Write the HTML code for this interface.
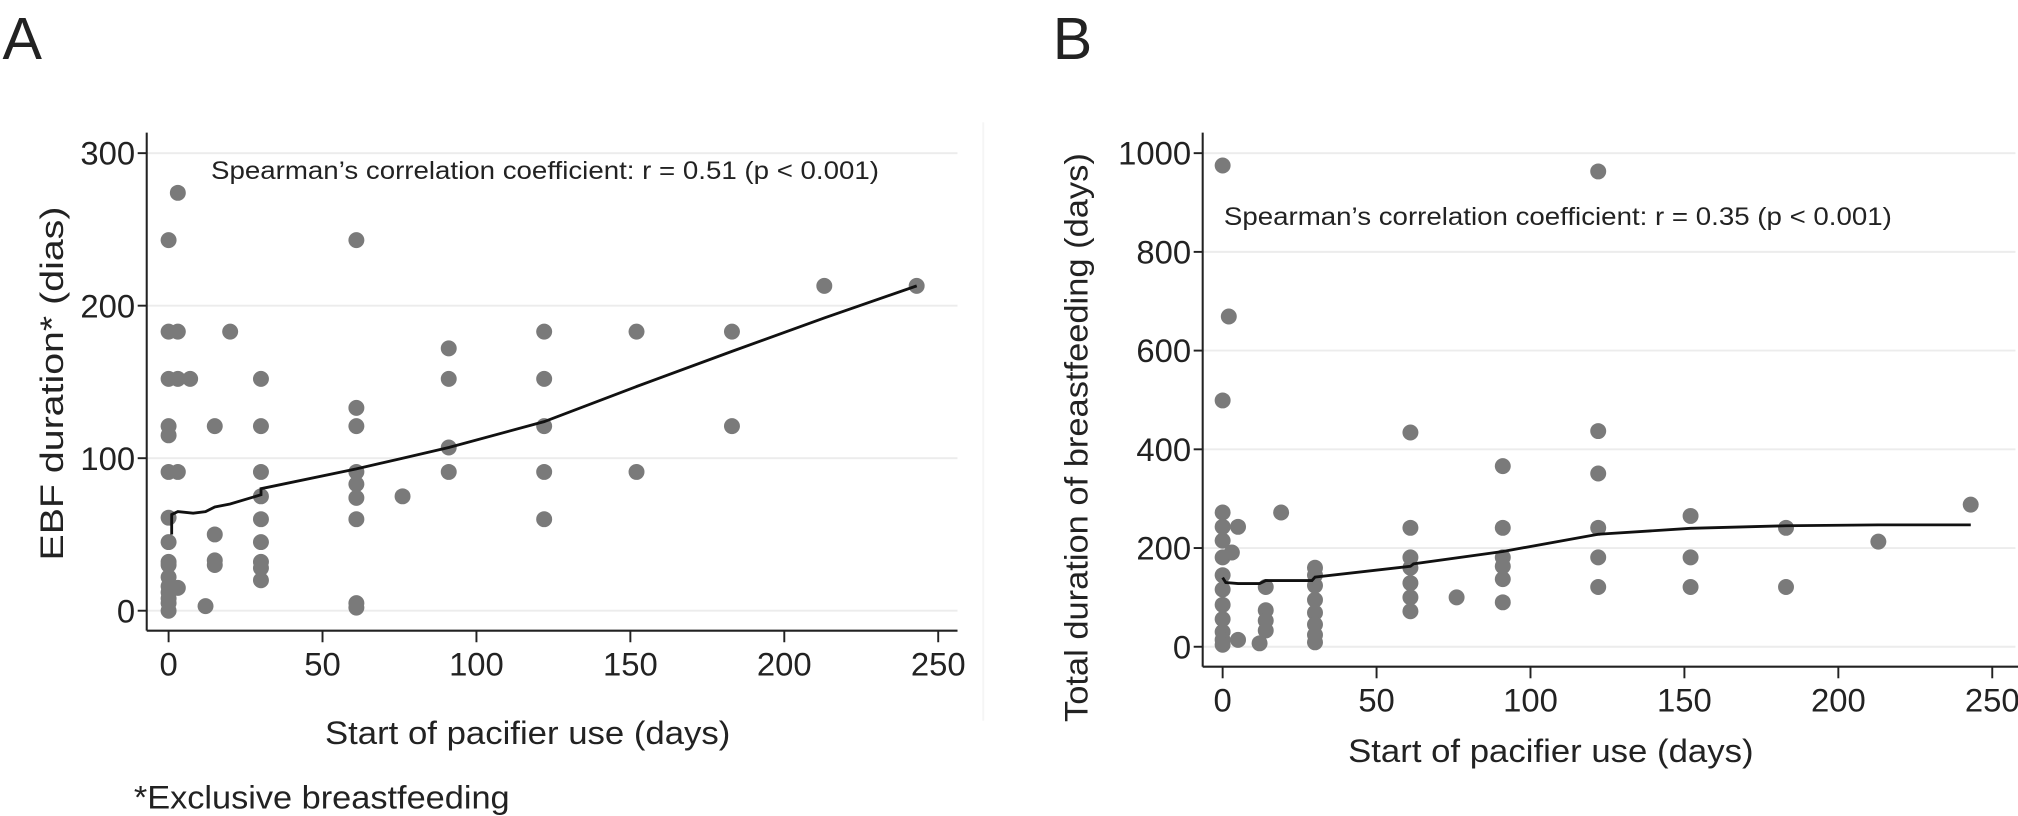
<!DOCTYPE html>
<html><head><meta charset="utf-8"><style>
html,body{margin:0;padding:0;background:#fff;}
svg{display:block;font-family:"Liberation Sans",Arial,sans-serif;}
</style></head><body>
<svg id="fig" width="2018" height="816" viewBox="0 0 1568 634" preserveAspectRatio="none" xmlns="http://www.w3.org/2000/svg">
<rect width="1568" height="634" fill="#fff"/>
<g id="A"></g>
<g id="B"></g>
</svg>
<script>
// Panel A data
const aX = [0,0,0,0,0,0,0,0,0,0,0,0,0,0,0,0, 3,3,3,3,3, 7, 12, 15,15,15,15, 20, 30,30,30,30,30,30,30,30,30, 61,61,61,61,61,61,61,61,61, 76, 91,91,91,91, 122,122,122,122,122, 152,152, 183,183, 213, 243];
const aY = [0,5,8,12,16,22,30,32,45,61,91,115,121,152,183,243, 274,183,152,91,15, 152, 3, 121,50,33,30, 183, 152,121,91,75,60,45,32,28,20, 243,133,121,91,83,74,60,5,2, 75, 172,152,107,91, 183,152,121,91,60, 183,91, 183,121, 213, 213];
const aFitX = [1,1,3,8,12,15,20,30,30,61,76,91,122,152,183,213,243];
const aFitY = [50,63,65,64,65,68,70,76,80,93,100,107,124,147,170,192,213];
const aYTicks = [0,100,200,300];
const aXTicks = [0,50,100,150,200,250];
// Panel B data
const bX = [0,0,0,0,0,0,0,0,0,0,0,0,0, 2,3,5,5, 12, 14,14,14,14, 19, 30,30,30,30,30,30,30,30, 61,61,61,61,61,61,61, 76, 91,91,91,91,91,91, 122,122,122,122,122,122, 152,152,152, 183,183, 213, 243];
const bY = [975,499,272,243,215,181,145,116,85,56,30,14,4, 669,191,243,14, 7, 121,74,53,33, 272, 160,145,124,95,69,45,24,9, 434,241,181,160,129,100,72, 100, 366,241,181,163,137,90, 963,437,351,241,181,121, 265,181,121, 241,121, 213, 288];
const bFitX = [0,1,5,12,14,29,30,61,62,91,122,152,183,213,243];
const bFitY = [140,130,128,128,134,134,141,163,168,193,228,240,245,247,247];
const bYTicks = [0,200,400,600,800,1000];
const bXTicks = [0,50,100,150,200,250];

const NS="http://www.w3.org/2000/svg";
function mk(parent,tag,attrs,txt){const e=document.createElementNS(NS,tag);for(const k in attrs)e.setAttribute(k,attrs[k]);if(txt!==undefined)e.textContent=txt;parent.appendChild(e);return e;}

function panel(g,cfg){
  const sx=v=>cfg.x0+v*cfg.kx, sy=v=>cfg.y0-v*cfg.ky;
  cfg.yTicks.forEach(t=>{
    const gl=mk(g,'line',{x1:cfg.axX,x2:cfg.gridEnd,y1:sy(t),y2:sy(t),stroke:'#ececec','stroke-width':1.5});
    
    
    const tk=mk(g,'line',{x1:cfg.axX-7,x2:cfg.axX,y1:sy(t),y2:sy(t),stroke:'#222','stroke-width':1.5});
    
    
    const lb=mk(g,'text',{x:cfg.axX-9,y:sy(t)+9,'text-anchor':'end','font-size':25.5,fill:'#222'},String(t));
    
    
  });
  cfg.xTicks.forEach(t=>{
    const tk=mk(g,'line',{x1:sx(t),x2:sx(t),y1:cfg.axY,y2:cfg.axY+9,stroke:'#222','stroke-width':1.5});
    
    
    const lb=mk(g,'text',{x:sx(t),y:cfg.axY+35,'text-anchor':'middle','font-size':25.5,fill:'#222'},String(t));
    
    
  });
  const ya=mk(g,'line',{x1:cfg.axX,x2:cfg.axX,y1:103,y2:cfg.axY,stroke:'#222','stroke-width':1.6});
  
  
  const xa=mk(g,'line',{x1:cfg.axX,x2:cfg.xEnd,y1:cfg.axY,y2:cfg.axY,stroke:'#222','stroke-width':1.6});
  
  
  cfg.px.forEach((v,i)=>{
    const c=mk(g,'circle',{cx:sx(v),cy:sy(cfg.py[i]),r:6.2,fill:'#7a7a7a'});
    
    
  });
  const d=cfg.fx.map((v,i)=>(i?'L':'M')+sx(v).toFixed(1)+','+sy(cfg.fy[i]).toFixed(1)).join(' ');
  const p=mk(g,'path',{d:d,fill:'none',stroke:'#111','stroke-width':2.2});
  
  
}

const A=document.getElementById('A'), B=document.getElementById('B');
panel(A,{x0:131,kx:2.392,y0:474.5,ky:1.185,axX:114,axY:490,xEnd:744,gridEnd:744,yTicks:aYTicks,xTicks:aXTicks,px:aX,py:aY,fx:aFitX,fy:aFitY});
panel(B,{x0:950,kx:2.392,y0:502.5,ky:0.3835,axX:934.5,axY:518,xEnd:1568,gridEnd:1566,yTicks:bYTicks,xTicks:bXTicks,px:bX,py:bY,fx:bFitX,fy:bFitY});
</script>
<svg style="position:absolute;left:0;top:0" width="2018" height="816" viewBox="0 0 1568 634" preserveAspectRatio="none" xmlns="http://www.w3.org/2000/svg">
<line x1="764" y1="95" x2="764" y2="560" stroke="#f5f5f5" stroke-width="1.5"/>
<text x="2" y="46" font-size="46" fill="#222" font-family="Liberation Sans, sans-serif">A</text>
<text x="818" y="46" font-size="46" fill="#222" font-family="Liberation Sans, sans-serif">B</text>
<text x="164" y="139" font-size="19.5" fill="#222" textLength="519" lengthAdjust="spacingAndGlyphs" font-family="Liberation Sans, sans-serif">Spearman’s correlation coefficient: r = 0.51 (p &lt; 0.001)</text>
<text x="951" y="175" font-size="19.5" fill="#222" textLength="519" lengthAdjust="spacingAndGlyphs" font-family="Liberation Sans, sans-serif">Spearman’s correlation coefficient: r = 0.35 (p &lt; 0.001)</text>
<text transform="translate(49,298) rotate(-90)" text-anchor="middle" font-size="25" fill="#222" textLength="275" lengthAdjust="spacingAndGlyphs" font-family="Liberation Sans, sans-serif">EBF duration* (dias)</text>
<text transform="translate(845,340) rotate(-90)" text-anchor="middle" font-size="25" fill="#222" textLength="442" lengthAdjust="spacingAndGlyphs" font-family="Liberation Sans, sans-serif">Total duration of breastfeeding (days)</text>
<text x="410" y="578" text-anchor="middle" font-size="25" fill="#222" textLength="315" lengthAdjust="spacingAndGlyphs" font-family="Liberation Sans, sans-serif">Start of pacifier use (days)</text>
<text x="1205" y="592" text-anchor="middle" font-size="25" fill="#222" textLength="315" lengthAdjust="spacingAndGlyphs" font-family="Liberation Sans, sans-serif">Start of pacifier use (days)</text>
<text x="104" y="628" font-size="25" fill="#222" textLength="292" lengthAdjust="spacingAndGlyphs" font-family="Liberation Sans, sans-serif">*Exclusive breastfeeding</text>
</svg>
</body></html>
